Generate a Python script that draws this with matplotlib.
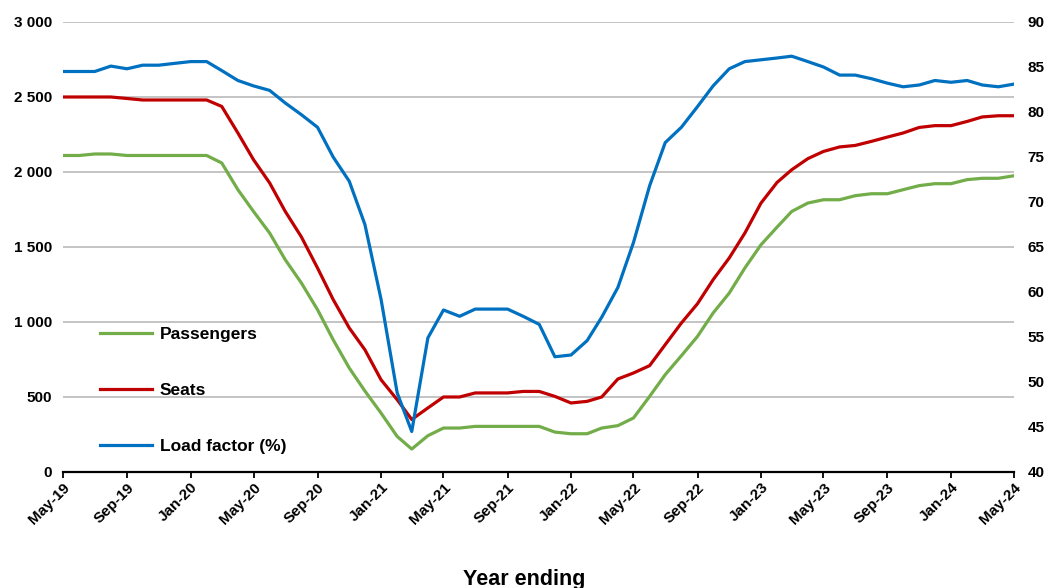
import numpy as np
import pandas as pd
import matplotlib
matplotlib.use("Agg")
import matplotlib.pyplot as plt
import matplotlib.dates as mdates
from matplotlib.ticker import FuncFormatter, MultipleLocator

plt.rcParams['font.family'] = ['Liberation Sans', 'DejaVu Sans']
plt.rcParams['font.weight'] = 'bold'

# monthly, year ending May-19 .. May-24
months = pd.date_range('2019-05-01', '2024-05-01', freq='MS')

passengers = [2110, 2110, 2120, 2120, 2110, 2110, 2110, 2110, 2110, 2110,
              2060, 1882, 1737, 1593, 1415, 1260, 1082, 882, 693, 540,
              393, 237, 153, 242, 293, 293, 304, 304, 304, 304,
              304, 266, 255, 255, 293, 309, 360, 504, 649, 775,
              904, 1060, 1193, 1360, 1515, 1633, 1737, 1793, 1815, 1815,
              1842, 1855, 1855, 1882, 1909, 1922, 1922, 1949, 1958, 1958,
              1975]
seats = [2500, 2500, 2500, 2500, 2490, 2480, 2480, 2480, 2480, 2480,
         2437, 2260, 2082, 1927, 1737, 1567, 1360, 1150, 960, 815,
         615, 482, 350, 427, 500, 500, 527, 527, 527, 537,
         537, 504, 460, 471, 500, 620, 660, 709, 849, 993,
         1122, 1282, 1427, 1593, 1793, 1931, 2015, 2089, 2137, 2167,
         2177, 2204, 2233, 2260, 2297, 2309, 2309, 2337, 2367, 2375,
         2375]
load_factor = [84.5, 84.5, 84.5, 85.1, 84.8, 85.2, 85.2, 85.4, 85.6, 85.6,
               84.6, 83.5, 82.9, 82.4, 81.0, 79.7, 78.3, 75.0, 72.3, 67.5,
               59.2, 48.8, 44.5, 54.9, 58.0, 57.3, 58.1, 58.1, 58.1, 57.3,
               56.4, 52.8, 53.0, 54.6, 57.2, 60.5, 65.5, 71.8, 76.6, 78.3,
               80.6, 82.9, 84.8, 85.6, 85.8, 86.0, 86.2, 85.6, 85.0, 84.1,
               84.1, 83.7, 83.2, 82.8, 83.0, 83.5, 83.3, 83.5, 83.0, 82.8,
               83.1]

green = '#72AD4A'
red = '#C00000'
blue = '#0070C0'

fig = plt.figure(figsize=(10.57, 5.88), dpi=100)
ax = fig.add_axes([0.0596, 0.1973, 0.8997, 0.7653])
ax2 = ax.twinx()

l1, = ax.plot(months, passengers, color=green, lw=2.3, label='Passengers')
l2, = ax.plot(months, seats, color=red, lw=2.3, label='Seats')
l3, = ax2.plot(months, load_factor, color=blue, lw=2.3, label='Load factor (%)')

ax.set_xlim(months[0], months[-1])
ax.set_ylim(0, 3000)
ax.yaxis.set_major_locator(MultipleLocator(500))
ax.yaxis.set_major_formatter(FuncFormatter(lambda v, p: '{:,.0f}'.format(v).replace(',', ' ')))
ax2.set_ylim(40, 90)
ax2.yaxis.set_major_locator(MultipleLocator(5))

ax.grid(axis='y', color='#c4c4c4', lw=1.4)
ax.set_axisbelow(True)

for s in ['left', 'right', 'top']:
    ax.spines[s].set_visible(False)
    ax2.spines[s].set_visible(False)
ax2.spines['bottom'].set_visible(False)
ax.spines['bottom'].set_linewidth(1.6)

ax.xaxis.set_major_locator(mdates.MonthLocator(bymonth=[1, 5, 9]))
ax.xaxis.set_major_formatter(mdates.DateFormatter('%b-%y'))
ax.tick_params(axis='x', direction='out', length=4, width=1.3, labelsize=11, pad=2)
ax.tick_params(axis='y', length=0, labelsize=11, pad=8)
ax2.tick_params(axis='y', length=0, labelsize=11, pad=10)
for lab in ax.get_xticklabels():
    lab.set_rotation(45)
    lab.set_ha('right')
    lab.set_rotation_mode('anchor')
    lab.set_fontweight('bold')

ax.set_xlabel('Year ending', fontsize=15.5, fontweight='bold')
ax.xaxis.set_label_coords(0.485, -0.215)

ax2.legend(handles=[l1, l2, l3], loc='upper left', bbox_to_anchor=(0.039, 0.322),
           frameon=False, fontsize=12.5, labelspacing=2.35, handlelength=3.0,
           handletextpad=0.45, borderpad=0, borderaxespad=0)

fig.savefig('out.png', dpi=100)
